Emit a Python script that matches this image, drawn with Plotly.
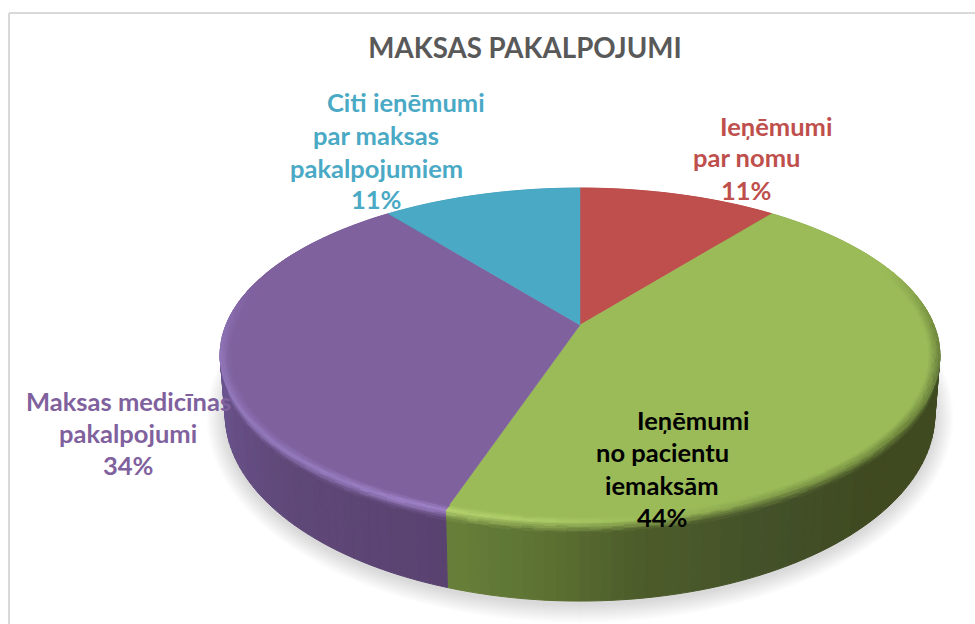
import math
import plotly.graph_objects as go

# ---- data ----
categories = ["Ieņēmumi par nomu", "Ieņēmumi no pacientu iemaksām",
              "Maksas medicīnas pakalpojumi", "Citi ieņēmumi par maksas pakalpojumiem"]
values = [10.6, 44.5, 34.3, 10.6]
face_colors = ["#be4f4c", "#9bbb59", "#7f619e", "#4aa9c4"]
title_text = "MAKSAS PAKALPOJUMI"

label_lines = [
    ["Ieņēmumi", "par nomu", "11%"],
    ["Ieņēmumi", "no pacientu", "iemaksām", "44%"],
    ["Maksas medicīnas", "pakalpojumi", "34%"],
    ["Citi ieņēmumi", "par maksas", "pakalpojumiem", "11%"],
]
label_x = [[776, 746, 746], [693, 662, 662, 662], [128, 128, 128], [406, 376, 376, 376]]
label_y = [[126, 157, 190], [420, 452, 485, 517], [401, 433, 465], [102, 135, 168, 199]]
label_colors = ["#be4f4c", "#000000", "#7f619e", "#4aa9c4"]

# ---- perspective geometry (pixel space) ----
AX, AY = 580, 325
C, A, K = 0.18, 161.6, 354
MID_Y = 355
LOW_Y, LOW_SY, LOW_SX = 414, 187 / 167, 0.986


def top(t):
    u, v = math.sin(math.radians(t)), math.cos(math.radians(t))
    d = 1 + C * v
    return AX + K * u / d, AY - A * v / d


def low(t):
    x, y = top(t)
    return AX + (x - AX) * LOW_SX, LOW_Y + (y - MID_Y) * LOW_SY


def mix(p, q, f):
    return (p[0] + (q[0] - p[0]) * f, p[1] + (q[1] - p[1]) * f)


def rgb(h):
    return tuple(int(h[i:i + 2], 16) for i in (1, 3, 5))


def blend(c1, c2, f):
    return tuple(c1[i] + (c2[i] - c1[i]) * f for i in range(3))


def keyed(keys, t):
    if t <= keys[0][0]:
        return rgb(keys[0][1])
    for (a, ca), (b, cb) in zip(keys, keys[1:]):
        if t <= b:
            return blend(rgb(ca), rgb(cb), (t - a) / (b - a))
    return rgb(keys[-1][1])


def css(c):
    return "rgb(%d,%d,%d)" % tuple(min(255, int(round(x / 2) * 2)) for x in c)


wall_keys = [
    [(0, "#8f3b38"), (40, "#8f3b38")],
    [(38, "#3f4a21"), (135, "#3f4a21"), (155, "#44512a"), (172, "#4d5c2a"), (185, "#5d7233"), (199, "#68803a")],
    [(198, "#5a4270"), (225, "#5f4878"), (250, "#675088"), (270, "#6d5694"), (325, "#6d5694")],
    [(320, "#387f94"), (360, "#387f94")],
]
rim_keys = [
    [(0, "#be4f4c"), (40, "#be4f4c")],
    [(38, "#9bbb59"), (68, "#9bbb59"), (88, "#748c3e"), (105, "#62783a"), (125, "#6d843b"),
     (150, "#7f9a48"), (170, "#9bbb59"), (185, "#aecd68"), (199, "#b7d570")],
    [(198, "#a486ce"), (225, "#967cc0"), (258, "#9278bb"), (272, "#8a6fb0"), (285, "#7f619e"), (325, "#7f619e")],
    [(320, "#4aa9c4"), (360, "#4aa9c4")],
]

# cumulative slice angles, clockwise from 12 o'clock
total = sum(values)
edges = [0]
for val in values:
    edges.append(edges[-1] + val / total * 360)

fig = go.Figure()


def add_groups(groups):
    for color, (xs, ys) in groups.items():
        fig.add_trace(go.Scatter(x=xs, y=ys, mode="lines", fill="toself", fillcolor=color,
                                 line=dict(color=color, width=1), hoverinfo="skip", showlegend=False))


def add_poly(groups, color, pts):
    xs, ys = groups.setdefault(color, ([], []))
    xs.extend([p[0] for p in pts] + [pts[0][0], None])
    ys.extend([p[1] for p in pts] + [pts[0][1], None])


# soft shadow under the pie
for g in range(1, 20):
    pts = []
    for d in range(0, 360, 3):
        x, y = low(d)
        pts.append((AX + (x - AX) * (1 + g / 355), LOW_Y + 3 + (y - LOW_Y) * (1 + g / 187)))
    fig.add_trace(go.Scatter(x=[p[0] for p in pts], y=[p[1] for p in pts], mode="lines", fill="toself",
                             fillcolor="rgba(0,0,0,0.008)", line=dict(width=0), hoverinfo="skip",
                             showlegend=False))

OUT = 0.13
IN = 0.03
LAYERS = 5
STEP = 1.5


def arc_steps(a, b):
    n = max(1, int((b - a) / STEP))
    return [a + (b - a) * i / n for i in range(n + 1)]


# side walls and the outer half of the bevel
wall = {}
for i in range(len(values)):
    st = arc_steps(edges[i], edges[i + 1])
    for t0, t1 in zip(st, st[1:]):
        tm = (t0 + t1) / 2
        wc = keyed(wall_keys[i], tm)
        rc = keyed(rim_keys[i], tm)
        p0, p1, q0, q1 = top(t0), top(t1), low(t0), low(t1)
        add_poly(wall, css(wc), [mix(p0, q0, OUT), mix(p1, q1, OUT), q1, q0])
        for l in range(LAYERS):
            f0, f1 = l / LAYERS, (l + 1) / LAYERS
            col = blend(rc, wc, (f0 + f1) / 2)
            add_poly(wall, css(col), [mix(p0, q0, OUT * f0), mix(p1, q1, OUT * f0),
                                      mix(p1, q1, OUT * f1), mix(p0, q0, OUT * f1)])
add_groups(wall)

# top faces, one wedge per value
for i in range(len(values)):
    st = arc_steps(edges[i], edges[i + 1])
    pts = [(AX, AY)] + [top(t) for t in st] + [(AX, AY)]
    fig.add_trace(go.Scatter(x=[p[0] for p in pts], y=[p[1] for p in pts], mode="lines", fill="toself",
                             fillcolor=face_colors[i], line=dict(color=face_colors[i], width=0.5),
                             name=categories[i], hoverinfo="skip", showlegend=False))

# inner half of the bevel, fading into the face
bevel = {}
for i in range(len(values)):
    st = arc_steps(edges[i], edges[i + 1])
    fc = rgb(face_colors[i])
    for t0, t1 in zip(st, st[1:]):
        tm = (t0 + t1) / 2
        rc = keyed(rim_keys[i], tm)
        if sum(abs(rc[k] - fc[k]) for k in range(3)) < 3:
            continue
        p0, p1 = top(t0), top(t1)
        for l in range(LAYERS):
            f0, f1 = l / LAYERS, (l + 1) / LAYERS
            col = blend(rc, fc, (f0 + f1) / 2)
            s0, s1 = 1 - IN * f0, 1 - IN * f1
            sc = lambda p, s: (AX + (p[0] - AX) * s, MID_Y + (p[1] - MID_Y) * s)
            add_poly(bevel, css(col), [sc(p0, s0), sc(p1, s0), sc(p1, s1), sc(p0, s1)])
add_groups(bevel)

# chart-area frame
shapes = [
    dict(type="line", x0=9, x1=975, y0=13, y1=13, line=dict(color="#d9d9d9", width=2)),
    dict(type="line", x0=9, x1=9, y0=13, y1=624, line=dict(color="#d9d9d9", width=2)),
]

annotations = []
for lines, xs, ys, col in zip(label_lines, label_x, label_y, label_colors):
    for text, x, y in zip(lines, xs, ys):
        annotations.append(dict(text="<b>%s</b>" % text, x=x, y=y, xref="x", yref="y", showarrow=False,
                                xanchor="center", yanchor="middle",
                                font=dict(family="Lato", size=25.5, color=col)))

fig.update_layout(
    width=975, height=624, margin=dict(l=0, r=0, t=0, b=0),
    paper_bgcolor="white", plot_bgcolor="white", showlegend=False,
    title=dict(text="<b>%s</b>" % title_text, x=525 / 975, y=1 - 48 / 624, xanchor="center", yanchor="middle",
               font=dict(family="Lato", size=27.7, color="#595959")),
    xaxis=dict(range=[0, 975], visible=False, domain=[0, 1]),
    yaxis=dict(range=[624, 0], visible=False, domain=[0, 1]),
    shapes=shapes, annotations=annotations,
)
fig.write_html("out.html", config=dict(displayModeBar=False),
               post_script="document.body.style.margin='0';document.documentElement.style.overflow='hidden';")
